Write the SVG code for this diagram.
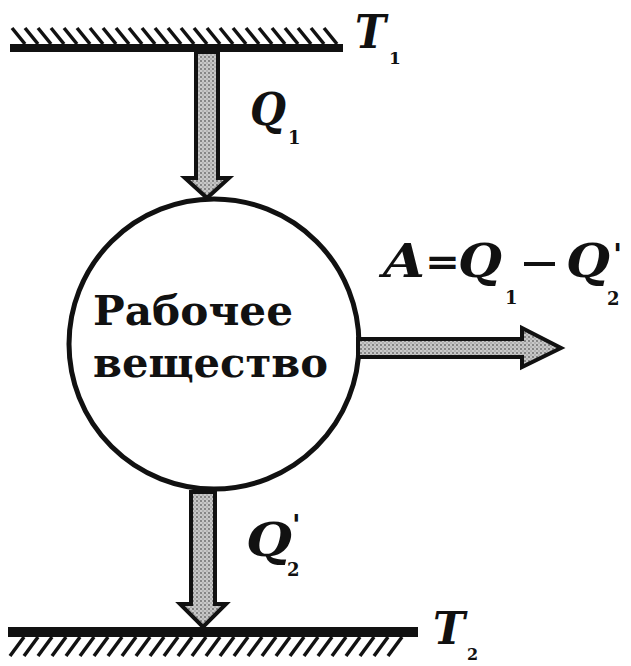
<svg xmlns="http://www.w3.org/2000/svg" width="631" height="666" viewBox="0 0 631 666">
<style>
.hatch{stroke:#111;stroke-width:3.5}
.bar{fill:#111}
.arrow{stroke:#111;stroke-width:4;stroke-linejoin:miter}
.lbl{font-family:"DejaVu Serif","Liberation Serif",serif;font-weight:bold;font-style:italic;fill:#111}
.sub{font-family:"DejaVu Serif","Liberation Serif",serif;font-weight:bold;fill:#111}
.body{font-family:"DejaVu Serif","Liberation Serif",serif;font-weight:bold;fill:#111;font-size:41px}
</style>
<defs>
<pattern id="dots" width="4" height="4" patternUnits="userSpaceOnUse">
<rect width="4" height="4" fill="#c8c8c8"/>
<circle cx="1" cy="1" r="0.9" fill="#666"/>
<circle cx="3" cy="3" r="0.7" fill="#888"/>
</pattern>
</defs>
<rect width="631" height="666" fill="#fff"/>
<g id="top-plate">
<rect class="bar" x="10" y="44" width="333" height="8"/>
<g class="hatch">
<line x1="12" y1="28" x2="25" y2="44"/><line x1="25" y1="28" x2="38" y2="44"/><line x1="38" y1="28" x2="51" y2="44"/><line x1="51" y1="28" x2="64" y2="44"/><line x1="64" y1="28" x2="77" y2="44"/><line x1="77" y1="28" x2="90" y2="44"/><line x1="90" y1="28" x2="103" y2="44"/><line x1="103" y1="28" x2="116" y2="44"/><line x1="116" y1="28" x2="129" y2="44"/><line x1="129" y1="28" x2="142" y2="44"/><line x1="142" y1="28" x2="155" y2="44"/><line x1="155" y1="28" x2="168" y2="44"/><line x1="168" y1="28" x2="181" y2="44"/><line x1="181" y1="28" x2="194" y2="44"/><line x1="194" y1="28" x2="207" y2="44"/><line x1="207" y1="28" x2="220" y2="44"/><line x1="220" y1="28" x2="233" y2="44"/><line x1="233" y1="28" x2="246" y2="44"/><line x1="246" y1="28" x2="259" y2="44"/><line x1="259" y1="28" x2="272" y2="44"/><line x1="272" y1="28" x2="285" y2="44"/><line x1="285" y1="28" x2="298" y2="44"/><line x1="298" y1="28" x2="311" y2="44"/><line x1="311" y1="28" x2="324" y2="44"/><line x1="324" y1="28" x2="337" y2="44"/>
</g>
<text class="lbl" x="355" y="48" font-size="46" textLength="31" lengthAdjust="spacingAndGlyphs">T</text>
<text class="sub" x="389" y="64" font-size="17">1</text>
</g>
<g id="bottom-plate">
<rect class="bar" x="8" y="627" width="410" height="10"/>
<g class="hatch">
<line x1="10" y1="656" x2="24" y2="637"/><line x1="24" y1="656" x2="38" y2="637"/><line x1="38" y1="656" x2="52" y2="637"/><line x1="52" y1="656" x2="66" y2="637"/><line x1="66" y1="656" x2="80" y2="637"/><line x1="80" y1="656" x2="94" y2="637"/><line x1="94" y1="656" x2="108" y2="637"/><line x1="108" y1="656" x2="122" y2="637"/><line x1="122" y1="656" x2="136" y2="637"/><line x1="136" y1="656" x2="150" y2="637"/><line x1="150" y1="656" x2="164" y2="637"/><line x1="164" y1="656" x2="178" y2="637"/><line x1="178" y1="656" x2="192" y2="637"/><line x1="192" y1="656" x2="206" y2="637"/><line x1="206" y1="656" x2="220" y2="637"/><line x1="220" y1="656" x2="234" y2="637"/><line x1="234" y1="656" x2="248" y2="637"/><line x1="248" y1="656" x2="262" y2="637"/><line x1="262" y1="656" x2="276" y2="637"/><line x1="276" y1="656" x2="290" y2="637"/><line x1="290" y1="656" x2="304" y2="637"/><line x1="304" y1="656" x2="318" y2="637"/><line x1="318" y1="656" x2="332" y2="637"/><line x1="332" y1="656" x2="346" y2="637"/><line x1="346" y1="656" x2="360" y2="637"/><line x1="360" y1="656" x2="374" y2="637"/><line x1="374" y1="656" x2="388" y2="637"/><line x1="388" y1="656" x2="402" y2="637"/>
</g>
<text class="lbl" x="433" y="644" font-size="44" textLength="32" lengthAdjust="spacingAndGlyphs">T</text>
<text class="sub" x="467" y="660" font-size="16">2</text>
</g>
<g id="working-body">
<circle cx="214" cy="344" r="145" fill="#fff" stroke="#111" stroke-width="5"/>
<text class="body" x="93" y="325" textLength="200" lengthAdjust="spacingAndGlyphs">Рабочее</text>
<text class="body" x="93" y="377" textLength="235" lengthAdjust="spacingAndGlyphs">вещество</text>
</g>
<g id="connectors">
<path class="arrow" fill="url(#dots)" d="M196,52 L196,178 L185,178 L207,198 L229,178 L218,178 L218,52 Z"/>
<path class="arrow" fill="url(#dots)" d="M191,492 L191,604 L180,604 L203,627 L226,604 L215,604 L215,492 Z"/>
<path class="arrow" fill="url(#dots)" d="M358,339 L522,339 L522,328 L561,348 L522,367 L522,357 L358,357 Z"/>
</g>
<g id="label-q1">
<text class="lbl" x="250" y="125" font-size="44" textLength="36" lengthAdjust="spacingAndGlyphs">Q</text>
<text class="sub" x="288" y="144" font-size="18">1</text>
</g>
<g id="label-q2">
<text class="lbl" x="246" y="556" font-size="46" textLength="46" lengthAdjust="spacingAndGlyphs">Q</text>
<text class="sub" x="292" y="535" font-size="28">'</text>
<text class="sub" x="287" y="576" font-size="18">2</text>
</g>
<g id="label-work">
<text class="lbl" x="383" y="277" font-size="46" textLength="42" lengthAdjust="spacingAndGlyphs">A</text>
<text class="sub" x="425" y="275" font-size="38" textLength="35" lengthAdjust="spacingAndGlyphs">=</text>
<text class="lbl" x="458" y="277" font-size="46" textLength="44" lengthAdjust="spacingAndGlyphs">Q</text>
<text class="sub" x="505" y="304" font-size="18">1</text>
<line x1="524" y1="264" x2="555" y2="264" stroke="#111" stroke-width="4"/>
<text class="lbl" x="566" y="277" font-size="46" textLength="44" lengthAdjust="spacingAndGlyphs">Q</text>
<text class="sub" x="613" y="265" font-size="30">'</text>
<text class="sub" x="607" y="305" font-size="18">2</text>
</g>
</svg>
